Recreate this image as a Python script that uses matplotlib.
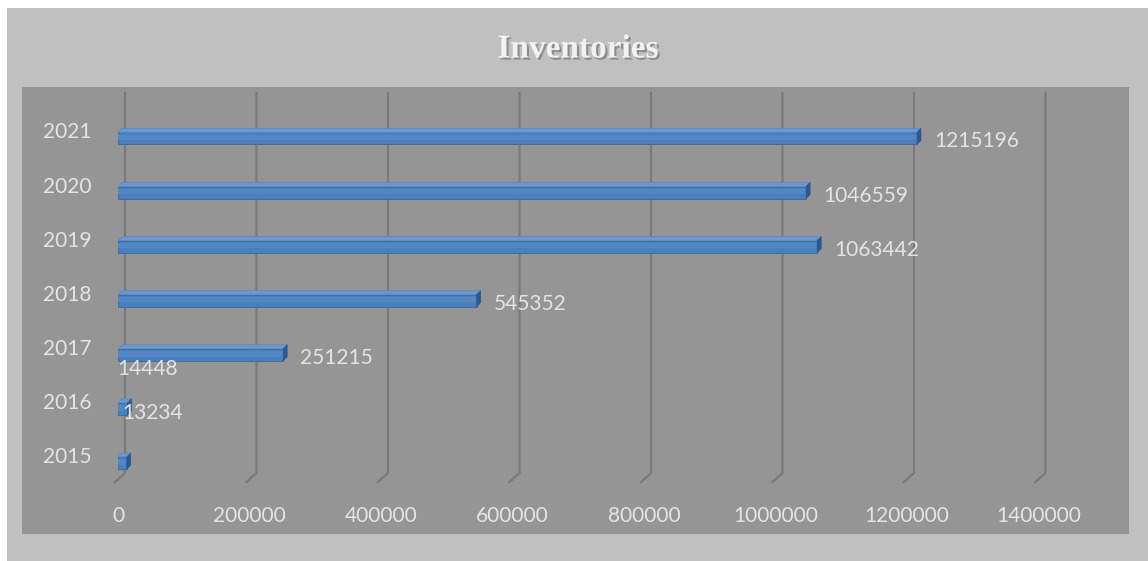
import numpy as np
import matplotlib.pyplot as plt
import matplotlib.patheffects as pe
from matplotlib.patches import Rectangle, Polygon
from matplotlib.transforms import ScaledTranslation

years = ["2015", "2016", "2017", "2018", "2019", "2020", "2021"]
inventories = [13234, 14448, 251215, 545352, 1063442, 1046559, 1215196]
x_ticks = [0, 200000, 400000, 600000, 800000, 1000000, 1200000, 1400000]

W, H = 1148, 561
fig = plt.figure(figsize=(W / 100, H / 100), dpi=100)
fig.patch.set_facecolor("white")

# outer chart area
fig.patches.append(Rectangle((7 / W, 0), 1 - 7 / W, 1 - 8 / H, transform=fig.transFigure,
                             facecolor="#c0c0c0", edgecolor="none", zorder=-5))

# plot area in pixels: x 22..1129, y 87..534
ax = fig.add_axes([22 / W, 1 - 534 / H, (1129 - 22) / W, (534 - 87) / H])
ax.set_facecolor("#959595")
for s in ax.spines.values():
    s.set_visible(False)

# pixel scale helpers
px_x = 131.5 / 200000      # pixels per unit value
px_y = 54.1                # pixels per category
x0_px, y0_px = 118, 463    # pixel position of value 0 / first category
ax.set_xlim(-(x0_px - 22) / px_x, (1129 - x0_px) / px_x)
ax.set_ylim(-(534 - y0_px) / px_y, (y0_px - 87) / px_y)

def dx(p):
    return p / px_x

def dy(p):
    return p / px_y

def row(py):
    return (y0_px - py) / px_y

# gridlines with 3D floor bend
for v in x_ticks:
    ax.plot([v + dx(7), v + dx(7), v - dx(3)], [row(93), row(473), row(482)],
            color="#7a7a7a", lw=1.6, zorder=1, solid_joinstyle="miter")

# 3D bars
idx = np.arange(len(years))
h = dy(12)
depth_x, depth_y = dx(4), dy(4)
ax.barh(idx, inventories, height=h, color="#4a7ebd", edgecolor="#3a68a3", lw=0.6, zorder=3)
for i, v in zip(idx, inventories):
    # soft highlight on front face
    ax.barh(i + h * 0.08, v, height=h * 0.45, color="#5287c6", lw=0, zorder=3.5)
    top = [(0, i + h / 2), (v, i + h / 2), (v + depth_x, i + h / 2 + depth_y), (depth_x, i + h / 2 + depth_y)]
    ax.add_patch(Polygon(top, closed=True, facecolor="#6c97cf", edgecolor="#5a86c0", lw=0.5, zorder=4))
    side = [(v, i - h / 2), (v + depth_x, i - h / 2 + depth_y), (v + depth_x, i + h / 2 + depth_y), (v, i + h / 2)]
    ax.add_patch(Polygon(side, closed=True, facecolor="#2c5891", edgecolor="#2c5891", lw=0.5, zorder=4))

# data labels (two small ones were moved by hand in the original)
label_offsets = [(-4, 50), (-10, 40), (17, -3), (17, -3), (17, -3), (17, -3), (17, -3)]
for i, v, (ox, oy) in zip(idx, inventories, label_offsets):
    ax.annotate(str(v), (v, i), xytext=(ox * 0.72, oy * 0.72), textcoords="offset points",
                ha="left", va="center", fontsize=15, family="Lato", color="#e4e4e4", zorder=5)

# ticks
ax.set_xticks(x_ticks, [str(t) for t in x_ticks])
ax.set_yticks(idx, years)
ax.tick_params(axis="both", length=0, labelcolor="#e4e4e4", labelsize=15)
ax.tick_params(axis="x", pad=-20)
ax.tick_params(axis="y", pad=-50)
for lab in ax.get_xticklabels() + ax.get_yticklabels():
    lab.set_family("Lato")
for lab in ax.get_yticklabels():
    lab.set_transform(lab.get_transform() + ScaledTranslation(0, 8 / 100, fig.dpi_scale_trans))

fig.text(578 / W, 1 - 49 / H, "Inventories", ha="center", va="center", fontsize=24,
         family=["Liberation Serif", "DejaVu Serif"], weight="bold", color="#f2f2f2",
         path_effects=[pe.withSimplePatchShadow(offset=(1.5, -1.5), shadow_rgbFace="#6a6a6a", alpha=0.6)])

fig.savefig("out.png", dpi=100)
